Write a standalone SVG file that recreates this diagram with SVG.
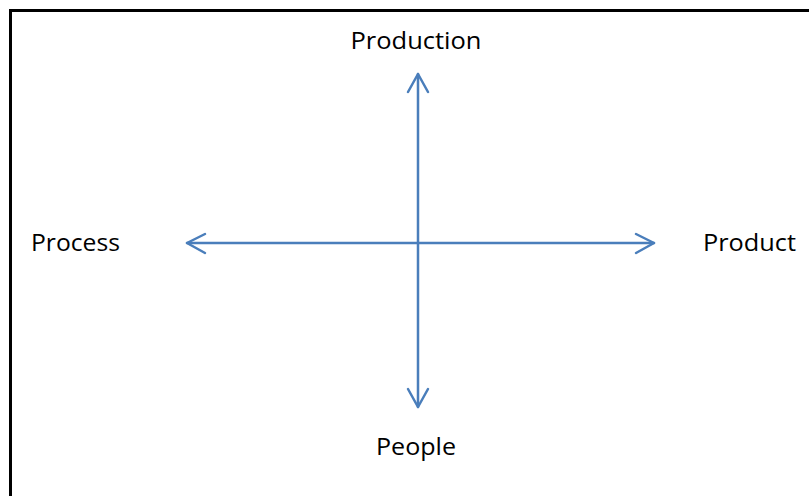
<svg xmlns="http://www.w3.org/2000/svg" width="809" height="496" viewBox="0 0 809 496">
<style>
.ax{stroke:#4a7ebb;stroke-width:2.5;fill:none;stroke-linecap:round;stroke-linejoin:round}
.lb{font-family:"Open Sans","Liberation Sans",sans-serif;font-size:24px;fill:#000}
</style>
<rect x="0" y="0" width="809" height="496" fill="#fff"/>
<path d="M10.5,496 V10.5 H809" stroke="#000" stroke-width="3" fill="none"/>
<g id="connectors">
<path class="ax" d="M418,74 V407"/>
<path class="ax" d="M187,243 H654"/>
<path class="ax" d="M408,92 L418,74 L428,92"/>
<path class="ax" d="M408,389 L418,407 L428,389"/>
<path class="ax" d="M205,234 L187,243 L205,253"/>
<path class="ax" d="M636,234 L654,243 L636,253"/>
</g>
<g id="production"><text class="lb" x="416" y="49" text-anchor="middle" textLength="131" lengthAdjust="spacingAndGlyphs">Production</text></g>
<g id="process"><text class="lb" x="31" y="251" textLength="89" lengthAdjust="spacingAndGlyphs">Process</text></g>
<g id="product"><text class="lb" x="703" y="251" textLength="93" lengthAdjust="spacingAndGlyphs">Product</text></g>
<g id="people"><text class="lb" x="416" y="455" text-anchor="middle" textLength="80" lengthAdjust="spacingAndGlyphs">People</text></g>
</svg>
